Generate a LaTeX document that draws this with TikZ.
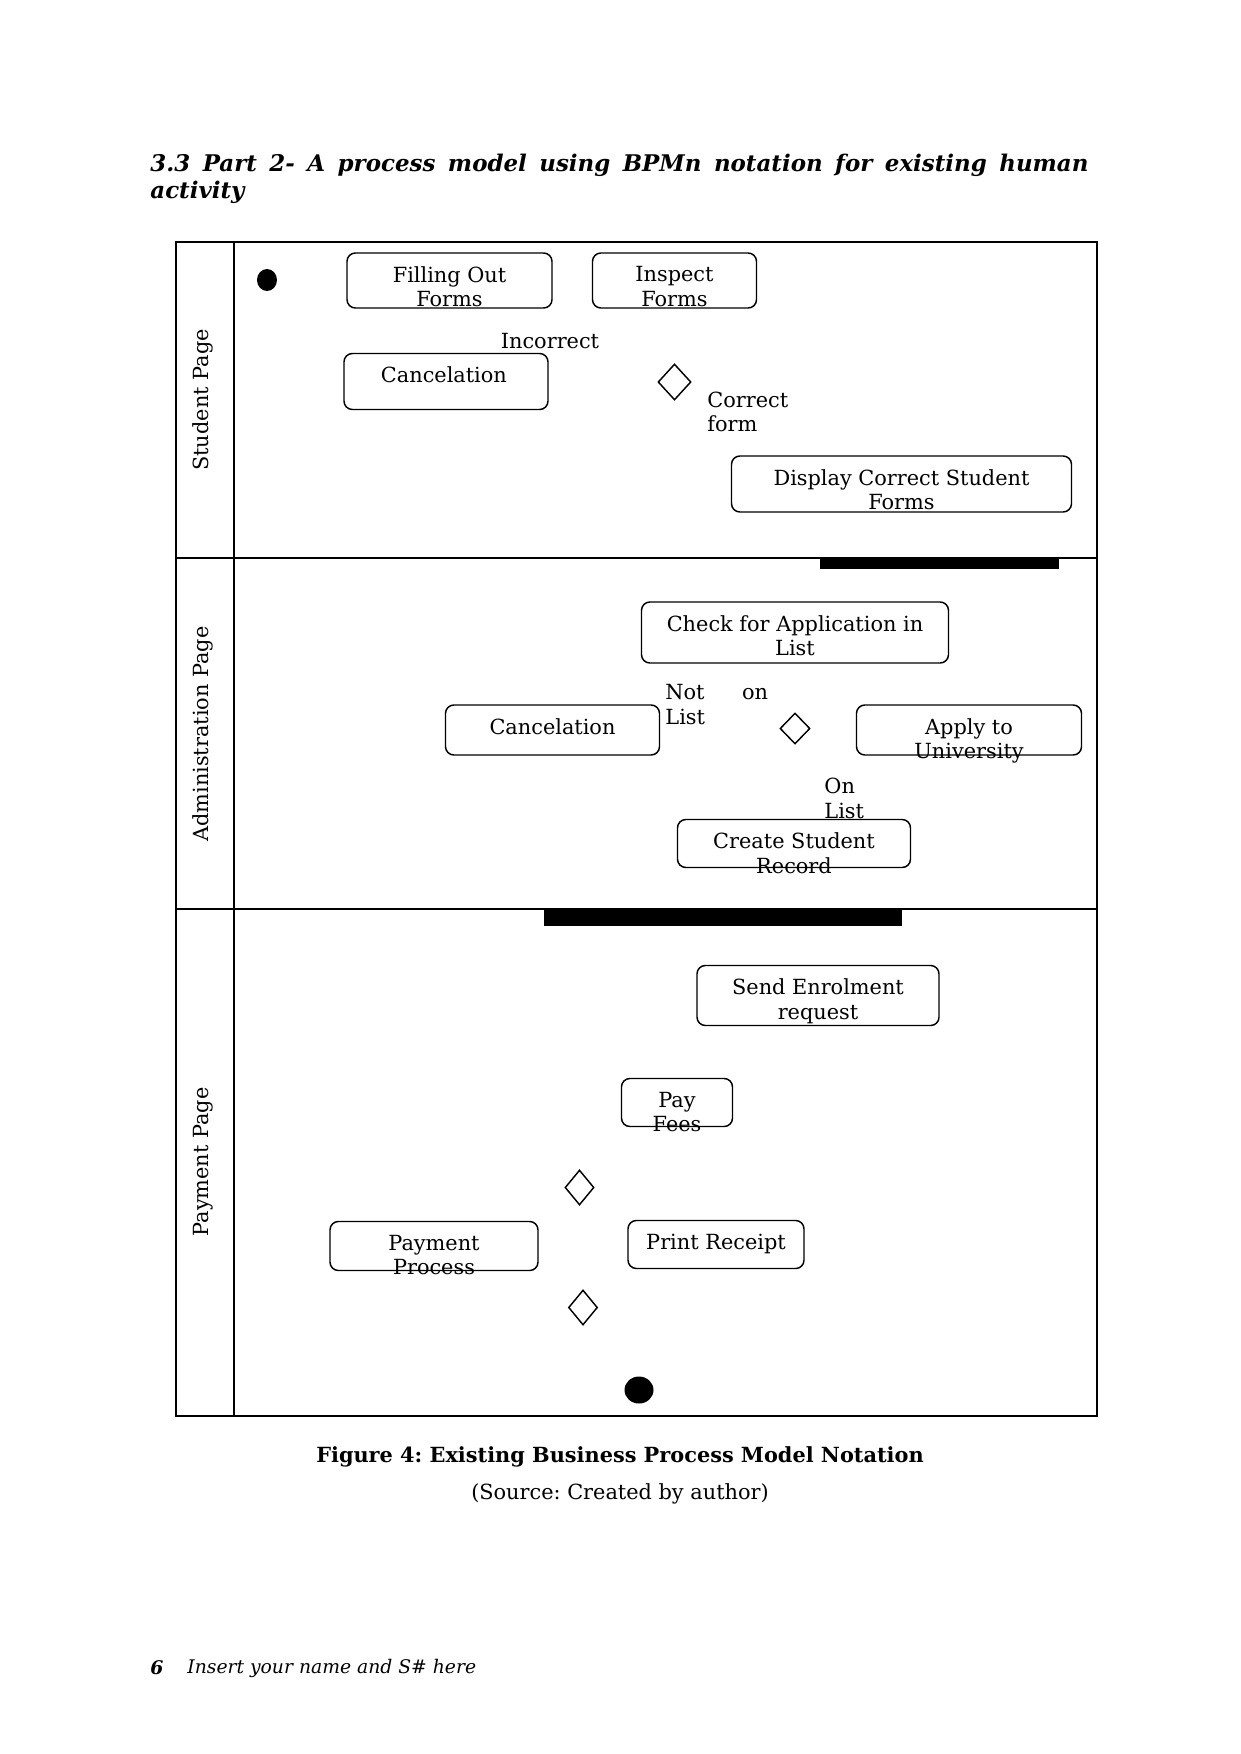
\documentclass[tikz,border=0pt]{standalone}
\usepackage{fontspec}
\setmainfont{DejaVu Serif}
\usetikzlibrary{positioning, shapes.geometric}
\frenchspacing

\begin{document}
\begin{tikzpicture}[
    x=0.4797pt, y=-0.4797pt,
    every node/.style={font=\fontsize{10}{11.8}\selectfont},
    task/.style 2 args={draw, rounded corners=4pt, line width=0.7pt, inner sep=0pt,
                 minimum width=#1*0.4797pt, minimum height=#2*0.4797pt},
    txt/.style ={anchor=north, align=center, inner sep=0pt, yshift=-6.6pt},
    gate/.style 2 args={draw, diamond, line width=0.7pt, inner sep=0pt,
                 minimum width=#1*0.4797pt, minimum height=#2*0.4797pt},
    event/.style 2 args={fill, ellipse, inner sep=0pt,
                 minimum width=#1*0.4797pt, minimum height=#2*0.4797pt},
    joinbar/.style 2 args={fill, inner sep=0pt,
                 minimum width=#1*0.4797pt, minimum height=#2*0.4797pt},
    lanelbl/.style={rotate=90},
    cond/.style={align=left, inner sep=0pt},
    pool/.style={line width=0.9pt},
]
\useasboundingbox (0,0) rectangle (1241,1754);

% --- heading ---
\node[anchor=north west, text width=450pt, align=justify, inner sep=0pt,
      font=\fontsize{11}{12.9}\selectfont\bfseries\itshape] (head) at (150,154)
     {3.3 Part 2- A process model using BPMn notation for existing human\linebreak activity};

% --- pool and lanes ---
\draw[line width=0.5pt] (176,242) rectangle (234,1416);
\draw[line width=0.5pt] (176,558) -- (234,558) (176,909) -- (234,909);
\draw[pool] (234,242) rectangle (1097,1416);
\draw[pool] (234,558) -- (1097,558) (234,909) -- (1097,909);
\draw[line width=1.3pt] (234,1416) -- (1097,1416);
\node[lanelbl] (stu) at (203,400) {Student Page};
\node[lanelbl] (adm) at (203,734) {Administration Page};
\node[lanelbl] (pay) at (203,1162) {Payment Page};

% --- student page ---
\node[event={20}{22}] (start) at (267,280) {};
\node[task={205}{55}, label={[txt]north:Filling Out\\Forms}] (fill) at (449.5,280.5) {};
\node[task={164}{55}, label={[txt]north:Inspect\\Forms}] (insp) at (674.5,280.5) {};
\node (incor) at (550,341) {Incorrect};
\node[task={204}{56}, label={[txt, xshift=-1pt]north:Cancelation}] (can1) at (446,381.5) {};
\node[gate={33}{36}] (g1) at (674.5,382) {};
\node[cond, anchor=west] (corr) at (707,412) {Correct\\form};
\node[task={340}{56}, label={[txt]north:Display Correct Student\\Forms}] (disp) at (901.5,484) {};

% --- administration page ---
\node[joinbar={239}{10}] (fork1) at (939.5,564) {};
\node[task={307}{61}, label={[txt]north:Check for Application in\\List}] (check) at (795,632.5) {};
\node[cond, anchor=west] (notl) at (665,704.5) {Not\hspace{18pt}on\\List};
\node[task={214}{50}, label={[txt]north:Cancelation}] (can2) at (552.5,730) {};
\node[gate={30}{31}] (g2) at (795,728.5) {};
\node[task={225}{50}, label={[txt]north:Apply to\\University}] (apply) at (969,730) {};
\node[cond, anchor=west] (onl) at (824,798.5) {On\\List};
\node[task={233}{48}, label={[txt]north:Create Student\\Record}] (rec) at (794,843.5) {};

% --- payment page ---
\node[joinbar={358}{16}] (fork2) at (723,917.5) {};
\node[task={242}{60}, label={[txt]north:Send Enrolment\\request}] (send) at (818,995.5) {};
\node[task={111}{48}, label={[txt]north:Pay\\Fees}] (fee) at (677,1102.5) {};
\node[gate={29}{35}] (g3) at (579.5,1187.5) {};
\node[task={208}{49}, label={[txt]north:Payment\\Process}] (proc) at (434,1246) {};
\node[task={176}{48}, label={[txt]north:Print Receipt}] (rcpt) at (716,1244.5) {};
\node[gate={29}{35}] (g4) at (583,1307.5) {};
\node[event={29}{27}] (stop) at (639,1390) {};

% --- caption and footer ---
\node[font=\fontsize{10}{12}\selectfont\bfseries] (cap) at (620,1457)
     {Figure 4: Existing Business Process Model Notation};
\node (src) at (620,1494) {(Source: Created by author)};
\node[anchor=west, inner sep=0pt, font=\fontsize{9}{11}\selectfont\bfseries\itshape] (pg) at (150,1668) {6};
\node[anchor=west, inner sep=0pt, font=\fontsize{9}{11}\selectfont\itshape] (foot) at (187,1668)
     {Insert your name and S\# here};
\end{tikzpicture}
\end{document}
